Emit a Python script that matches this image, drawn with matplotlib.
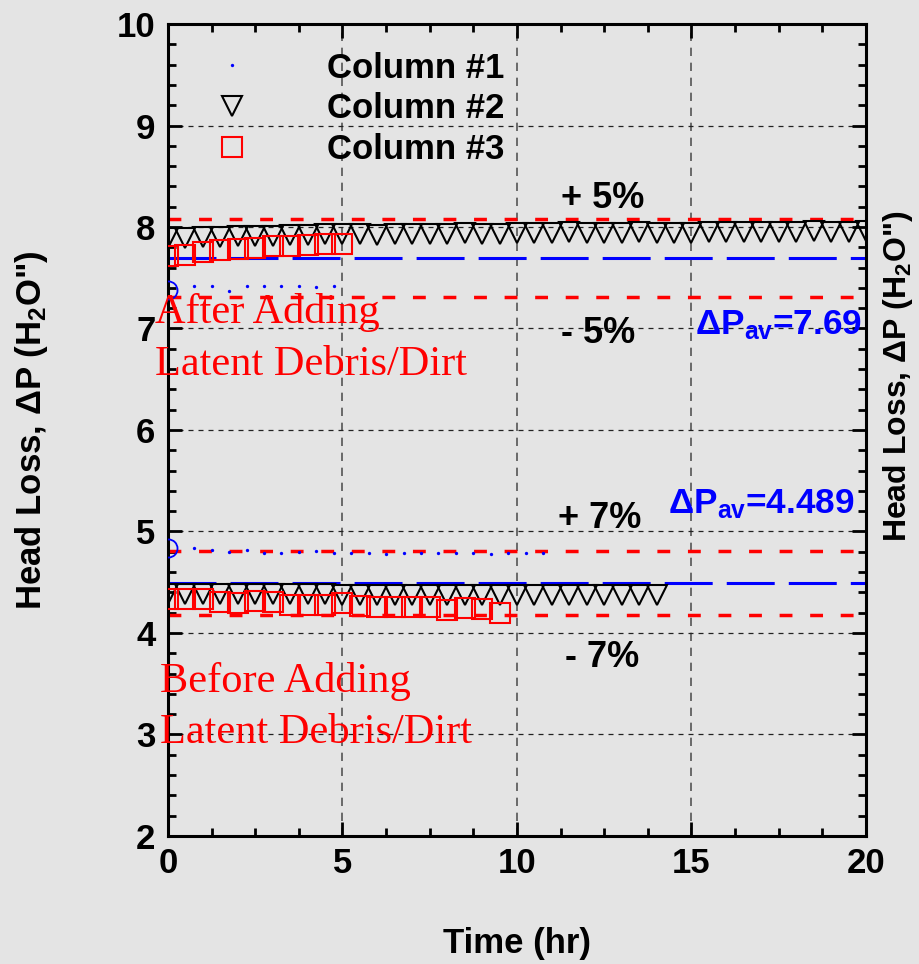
import matplotlib
matplotlib.use("Agg")
import matplotlib.pyplot as plt
from matplotlib.ticker import MultipleLocator

plt.rcParams['font.family'] = ['Liberation Sans', 'DejaVu Sans']
plt.rcParams['font.weight'] = 'bold'
plt.rcParams['axes.labelweight'] = 'bold'
plt.rcParams['mathtext.fontset'] = 'custom'
plt.rcParams['mathtext.rm'] = 'Liberation Sans:bold'
plt.rcParams['mathtext.it'] = 'Liberation Sans:bold'
plt.rcParams['mathtext.bf'] = 'Liberation Sans:bold'

# average head loss and tolerance bands
avg_after, tol_after = 7.69, 0.05
avg_before, tol_before = 4.489, 0.07

# Column #1 (blue dots, first reading drawn as a circle)
c1_first_after = 7.38
c1_first_before = 4.84
c1_t_after = [0.75, 1.25, 1.75, 2.25, 2.75, 3.25, 3.75, 4.25, 4.75]
c1_after = [7.42, 7.42, 7.37, 7.42, 7.42, 7.42, 7.42, 7.41, 7.42]
c1_t_before = [0.75, 1.25, 1.75, 2.25, 2.75, 3.25, 3.75, 4.25, 4.75, 5.25, 5.75,
               6.25, 6.75, 7.25, 7.75, 8.25, 8.75, 9.25, 9.75, 10.25, 10.75]
c1_before = [4.84, 4.82, 4.80, 4.82, 4.79, 4.79, 4.80, 4.81, 4.79, 4.79, 4.785,
             4.775, 4.785, 4.785, 4.785, 4.79, 4.785, 4.775, 4.785, 4.785, 4.785]

# Column #2 (triangles)
c2_t_after = [0, 0.5, 1, 1.5, 2, 2.5, 3, 3.5, 4, 4.5, 5, 5.5, 6, 6.5, 7, 7.5, 8, 8.5,
              9, 9.5, 10, 10.5, 11, 11.5, 12, 12.5, 13, 13.5, 14, 14.5, 15, 15.5,
              16, 16.5, 17, 17.5, 18, 18.5, 19, 19.5, 20]
c2_after = [7.89, 7.89, 7.90, 7.90, 7.91, 7.91, 7.91, 7.92, 7.92, 7.93,
            7.93, 7.93, 7.92, 7.93, 7.93, 7.93, 7.93, 7.94, 7.93, 7.93,
            7.94, 7.94, 7.94, 7.95, 7.94, 7.94, 7.94, 7.95, 7.94, 7.94,
            7.94, 7.95, 7.95, 7.95, 7.95, 7.95, 7.95, 7.96, 7.95, 7.95, 7.96]
c2_t_before = [0, 0.5, 1, 1.5, 2, 2.5, 3, 3.5, 4, 4.5, 5, 5.5, 6, 6.5, 7, 7.5, 8,
               8.5, 9, 9.5, 10, 10.5, 11, 11.5, 12, 12.5, 13, 13.5, 14]
c2_before = [4.38, 4.38, 4.38, 4.38, 4.38, 4.38, 4.38, 4.38, 4.38, 4.38,
             4.375, 4.375, 4.375, 4.375, 4.375, 4.37, 4.37, 4.37, 4.37, 4.37,
             4.37, 4.37, 4.37, 4.37, 4.37, 4.37, 4.37, 4.37, 4.37]

# Column #3 (squares)
c3_t_after = [0, 0.5, 1, 1.5, 2, 2.5, 3, 3.5, 4, 4.5, 5]
c3_after = [7.71, 7.72, 7.75, 7.77, 7.78, 7.79, 7.81, 7.81, 7.82, 7.83, 7.83]
c3_t_before = [0, 0.5, 1, 1.5, 2, 2.5, 3, 3.5, 4, 4.5, 5, 5.5, 6, 6.5, 7, 7.5,
               8, 8.5, 9, 9.5]
c3_before = [4.33, 4.33, 4.33, 4.31, 4.30, 4.32, 4.31, 4.28, 4.28, 4.28,
             4.30, 4.27, 4.26, 4.26, 4.26, 4.26, 4.23, 4.25, 4.24, 4.20]

bg = '#e4e4e4'
fig = plt.figure(figsize=(9.19, 9.64), dpi=100, facecolor=bg)
ax = fig.add_axes([0.1828, 0.1328, 0.7595, 0.8423])
ax.set_facecolor(bg)

# average and +/- tolerance lines
for avg, tol in [(avg_after, tol_after), (avg_before, tol_before)]:
    ax.axhline(avg, color='#0000ff', lw=2.2, dashes=(15.7, 4.6), zorder=2)
    ax.axhline(avg * (1 + tol), color='#ff0000', lw=2.5, dashes=(3.7, 5.1), zorder=2)
    ax.axhline(avg * (1 - tol), color='#ff0000', lw=2.5, dashes=(3.7, 5.1), zorder=2)

# Column #1
ax.plot(c1_t_after, c1_after, ls='none', marker='o', ms=2.4, mew=0,
        color='#0000ff', label='Column #1', zorder=4)
ax.plot(c1_t_before, c1_before, ls='none', marker='o', ms=2.4, mew=0,
        color='#0000ff', zorder=4)
ax.plot([0, 0], [c1_first_after, c1_first_before], ls='none', marker='o', ms=13,
        mfc='none', mec='#0000ff', mew=1.3, zorder=4)

# Column #2
ax.plot(c2_t_after, c2_after, ls='none', marker='v', ms=14.5, mfc='none',
        mec='black', mew=1.5, label='Column #2', zorder=4)
ax.plot(c2_t_before, c2_before, ls='none', marker='v', ms=14.5, mfc='none',
        mec='black', mew=1.5, zorder=4)

# Column #3
ax.plot(c3_t_after, c3_after, ls='none', marker='s', ms=14.5, mfc='none',
        mec='#ff0000', mew=1.5, label='Column #3', zorder=5)
ax.plot(c3_t_before, c3_before, ls='none', marker='s', ms=14.5, mfc='none',
        mec='#ff0000', mew=1.5, zorder=5)

ax.set_xlim(0, 20)
ax.set_ylim(2, 10)
ax.xaxis.set_major_locator(MultipleLocator(5))
ax.xaxis.set_minor_locator(MultipleLocator(1.25))
ax.yaxis.set_major_locator(MultipleLocator(1))
ax.yaxis.set_minor_locator(MultipleLocator(0.2))
ax.tick_params(which='both', direction='in', top=True, right=True, width=2)
ax.tick_params(which='major', length=10, labelsize=25)
ax.tick_params(which='minor', length=5.5)
ax.tick_params(axis='x', pad=8)
ax.tick_params(axis='y', pad=9)
for s in ax.spines.values():
    s.set_linewidth(2.2)

ax.set_axisbelow(True)
ax.grid(which='major', axis='x', color='#555555', ls=(0, (5, 4)), lw=1.2)
ax.grid(which='major', axis='y', color='#222222', ls=(0, (4, 4)), lw=0.9)

ax.set_xlabel('Time (hr)', fontsize=25)
ax.xaxis.set_label_coords(0.5, -0.112)
ax.set_ylabel('Head Loss, ΔP (H$_2$O")', fontsize=25, va='center')
ax.yaxis.set_label_coords(-0.195, 0.5)
ax.text(1.046, 0.566, 'Head Loss, ΔP (H$_2$O")', transform=ax.transAxes,
        rotation=90, fontsize=23, ha='center', va='center')

# tolerance labels
ax.text(12.46, 8.19, '+ 5%', fontsize=26, ha='center', va='baseline')
ax.text(12.32, 6.86, '- 5%', fontsize=26, ha='center', va='baseline')
ax.text(12.36, 5.03, '+ 7%', fontsize=26, ha='center', va='baseline')
ax.text(12.44, 3.66, '- 7%', fontsize=26, ha='center', va='baseline')
ax.text(15.1, 6.94, 'ΔP$_{av}$=7.69', fontsize=25.3, color='#0000ff', va='baseline')
ax.text(14.33, 5.18, 'ΔP$_{av}$=4.489', fontsize=25.3, color='#0000ff', va='baseline')

serif = dict(family=['Liberation Serif', 'DejaVu Serif'], weight='normal',
             fontsize=30.5, color='#ff0000', va='baseline', zorder=6)
ax.text(-0.37, 7.05, 'After Adding', clip_on=False, **serif)
ax.text(-0.37, 6.54, 'Latent Debris/Dirt', clip_on=False, **serif)
ax.text(-0.23, 3.42, 'Before Adding', clip_on=False, **serif)
ax.text(-0.23, 2.92, 'Latent Debris/Dirt', clip_on=False, **serif)

ax.legend(loc='upper left', bbox_to_anchor=(0.0415, 0.966), frameon=False,
          fontsize=25, handlelength=2, handletextpad=1.74, labelspacing=0.22,
          borderpad=0, borderaxespad=0, numpoints=1)

fig.savefig('out.png', dpi=100, facecolor=bg)
